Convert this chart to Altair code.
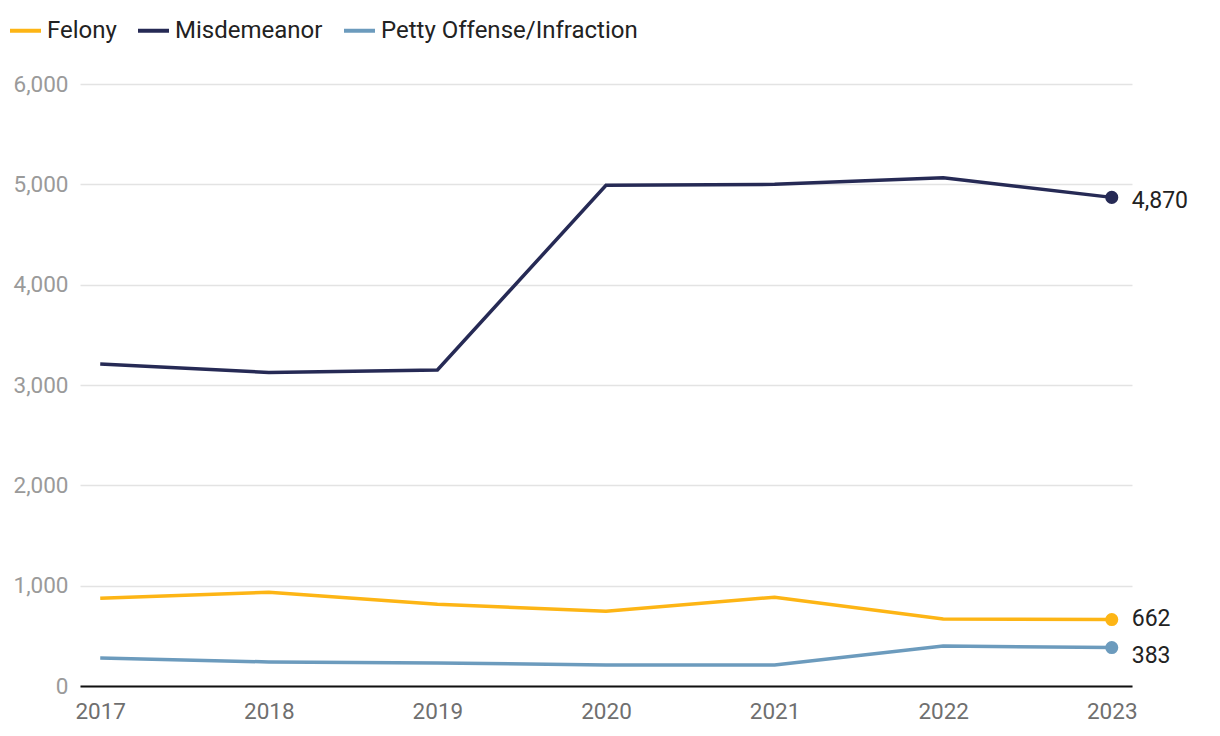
import altair as alt
import pandas as pd

years = [2017, 2018, 2019, 2020, 2021, 2022, 2023]
felony = [875, 935, 815, 745, 885, 668, 662]
misdemeanor = [3210, 3125, 3150, 4990, 5000, 5065, 4870]
petty = [278, 240, 230, 210, 210, 398, 383]

series = ["Felony", "Misdemeanor", "Petty Offense/Infraction"]
colors = ["#FDB515", "#262A55", "#6C9BBD"]
label_shift = [-1, 4, 8]

rows = []
for name, vals in zip(series, [felony, misdemeanor, petty]):
    for y, v in zip(years, vals):
        rows.append({"year": str(y), "value": v, "series": name})
df = pd.DataFrame(rows)
last = df[df["year"] == "2023"].copy().reset_index(drop=True)
last["label"] = last["value"].map(lambda v: f"{v:,}")

FONT = "Roboto"

x = alt.X("year:O", scale=alt.Scale(type="point", padding=0.12),
          axis=alt.Axis(title=None, labelAngle=0, labelFontSize=22.5, labelColor="#6f6f6f",
                        labelFont=FONT, ticks=False, domainColor="#111111", domainWidth=2,
                        labelPadding=14, grid=False))
y = alt.Y("value:Q", scale=alt.Scale(domain=[0, 6000]),
          axis=alt.Axis(title=None, values=[0, 1000, 2000, 3000, 4000, 5000, 6000], format=",.0f",
                        labelFontSize=22.5, labelColor="#9a9a9a", labelFont=FONT, ticks=False,
                        domain=False, gridColor="#e3e3e3", gridWidth=1.3, labelPadding=12))
cscale = alt.Scale(domain=series, range=colors)
color = alt.Color("series:N", scale=cscale,
                  legend=alt.Legend(title=None, orient="none", direction="horizontal",
                                    legendX=-72, legendY=-71, symbolType="stroke",
                                    symbolStrokeWidth=4, symbolSize=961, labelFontSize=24,
                                    labelFont=FONT, labelColor="#222222", columnPadding=13,
                                    labelOffset=4, labelLimit=600))

lines = alt.Chart(df).mark_line(strokeWidth=3.5).encode(x=x, y=y, color=color)
dots = alt.Chart(last).mark_circle(size=170, opacity=1).encode(
    x=x, y=y, color=alt.Color("series:N", scale=cscale, legend=None))

label_layers = []
for name, shift in zip(series, label_shift):
    label_layers.append(
        alt.Chart(last[last["series"] == name]).mark_text(
            align="left", baseline="middle", dx=20, dy=shift, fontSize=23,
            font=FONT, color="#222222").encode(x=x, y=y, text="label:N"))

chart = alt.layer(lines, dots, *label_layers).properties(
    width=1052, height=602,
    autosize=alt.AutoSizeParams(type="none"),
    padding={"left": 72, "top": 76, "right": 80, "bottom": 50},
).configure_view(stroke=None)

chart.save("out.html", embed_options={"renderer": "svg", "actions": False})
